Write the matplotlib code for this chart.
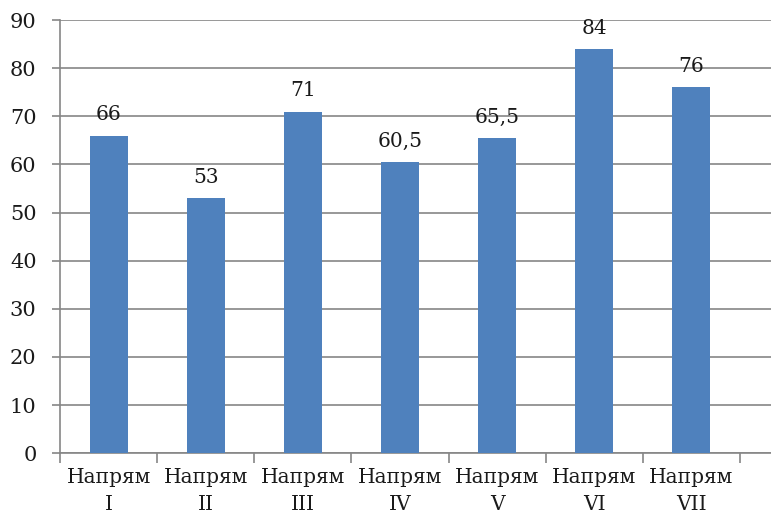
import matplotlib.pyplot as plt
import numpy as np

# Данные
categories = ["Напрям\nI", "Напрям\nII", "Напрям\nIII", "Напрям\nIV",
              "Напрям\nV", "Напрям\nVI", "Напрям\nVII"]
values = [66, 53, 71, 60.5, 65.5, 84, 76]
labels = ["66", "53", "71", "60,5", "65,5", "84", "76"]

plt.rcParams['font.family'] = ['DejaVu Serif']

fig = plt.figure(figsize=(7.71, 5.15), dpi=100)
ax = fig.add_axes([0.078, 0.120, 0.922, 0.841])

x = np.arange(len(categories))
bars = ax.bar(x, values, width=0.39, color="#4F81BD", zorder=3)

for b, lab in zip(bars, labels):
    ax.annotate(lab, (b.get_x() + b.get_width() / 2, b.get_height()),
                xytext=(0, 8), textcoords="offset points",
                ha="center", va="bottom", fontsize=14.5, color="#1a1a1a")

ax.set_ylim(0, 90)
ax.set_yticks(range(0, 91, 10))
ax.set_xlim(-0.5, 6.82)

# подписи категорий в центре, засечки между категориями
ax.set_xticks(x)
ax.set_xticklabels(categories, fontsize=14.5, color="#1a1a1a", linespacing=1.5)
ax.set_xticks(np.arange(-0.5, 7, 1), minor=True)
ax.tick_params(axis="x", which="major", length=0, pad=11)
ax.tick_params(axis="x", which="minor", length=7, width=1.2, color="#868686")
ax.tick_params(axis="y", length=6, width=1.2, color="#868686",
               labelsize=15, labelcolor="#1a1a1a", pad=11)

ax.grid(axis="y", color="#868686", linewidth=1.2, zorder=0)
for s in ["top", "right"]:
    ax.spines[s].set_visible(False)
for s in ["left", "bottom"]:
    ax.spines[s].set_color("#868686")
    ax.spines[s].set_linewidth(1.2)

plt.savefig("out.png", dpi=100)
